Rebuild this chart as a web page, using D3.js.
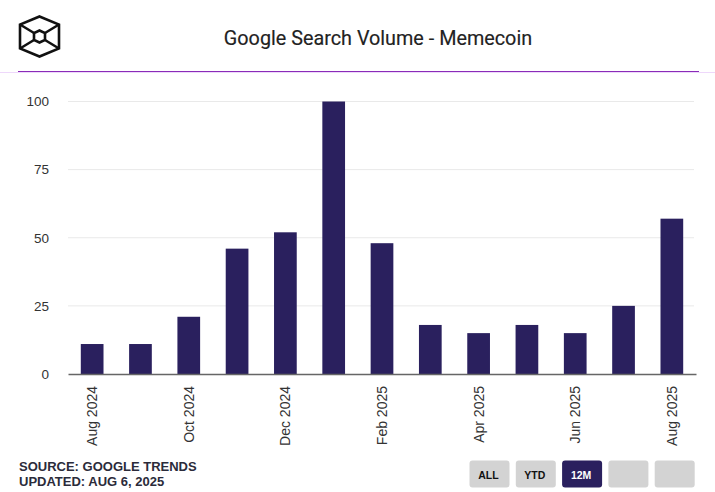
<!DOCTYPE html>
<html>
<head>
<meta charset="utf-8">
<script src="https://cdn.jsdelivr.net/npm/d3@7"></script>
<style>
  html, body { margin: 0; padding: 0; background: #fff; }
  svg { display: block; }
  text { font-family: "Liberation Sans", Arial, sans-serif; }
</style>
</head>
<body>
<svg id="chart" width="715" height="492"></svg>
<script>
// values
var months = ["Aug 2024","Sep 2024","Oct 2024","Nov 2024","Dec 2024","Jan 2025","Feb 2025","Mar 2025","Apr 2025","May 2025","Jun 2025","Jul 2025","Aug 2025"];
var volume = [11,11,21,46,52,100,48,18,15,18,15,25,57];
var monthTicks = ["Aug 2024","Oct 2024","Dec 2024","Feb 2025","Apr 2025","Jun 2025","Aug 2025"];
var volumeTicks = [0,25,50,75,100];
var buttons = ["ALL","YTD","12M","",""];
var activeButton = "12M";
var sourceLines = ["SOURCE: GOOGLE TRENDS","UPDATED: AUG 6, 2025"];

var svg = d3.select("#chart");
var navy = "#2a205e";

// header
svg.append("text").attr("x", 378).attr("y", 44.5)
  .attr("text-anchor", "middle")
  .style("font-family", "Roboto, sans-serif")
  .style("font-size", "19.8px")
  .style("fill", "#222")
  .style("stroke", "#222")
  .style("stroke-width", 0.15)
  .text("Google Search Volume - Memecoin");

svg.append("line").attr("x1", 0).attr("x2", 715).attr("y1", 72.5).attr("y2", 72.5)
  .attr("stroke", "#eed8fb").attr("stroke-width", 1);
svg.append("line").attr("x1", 18).attr("x2", 699).attr("y1", 71.5).attr("y2", 71.5)
  .attr("stroke", "#8a2bb8").attr("stroke-width", 1);

// logo
var logo = svg.append("g").attr("transform", "translate(39.5,36.5)")
  .attr("fill", "none").attr("stroke", "#111").attr("stroke-width", 2.6);
logo.append("path").attr("d", "M0,-20L19.5,-12V12L0,20L-19.5,12V-12Z");
logo.append("path").attr("d", "M0,-6L5.5,-3.5V3.5L0,6L-5.5,3.5V-3.5Z");
logo.append("path").attr("d", "M-19.5,-12L-5.5,-3.5M19.5,-12L5.5,-3.5M-19.5,12L-5.5,3.5M19.5,12L5.5,3.5");

// scales
var x = d3.scaleBand().domain(months).range([68, 696]).paddingInner(0.53).paddingOuter(0.265);
var y = d3.scaleLinear().domain([0, 100]).range([374, 101.5]);

// grid
svg.append("g").selectAll("line").data(volumeTicks.filter(function(d) { return d > 0; }))
  .enter().append("line")
  .attr("x1", 68).attr("x2", 694)
  .attr("y1", function(d) { return y(d); })
  .attr("y2", function(d) { return y(d); })
  .attr("stroke", "#e9e9e9").attr("stroke-width", 1);

// bars
svg.append("g").selectAll("rect").data(months)
  .enter().append("rect")
  .attr("x", function(d) { return x(d); })
  .attr("width", x.bandwidth())
  .attr("y", function(d, i) { return y(volume[i]); })
  .attr("height", function(d, i) { return y(0) - y(volume[i]); })
  .attr("fill", navy);

// y axis
var yAxis = svg.append("g").attr("transform", "translate(68,0)")
  .call(d3.axisLeft(y).tickValues(volumeTicks).tickSize(0).tickPadding(19));
yAxis.select(".domain").remove();
yAxis.selectAll("text").style("font-size", "13.5px").style("fill", "#333");

// x axis
var xAxis = svg.append("g").attr("transform", "translate(0,374)")
  .call(d3.axisBottom(x).tickValues(monthTicks).tickSize(0));
xAxis.select(".domain").attr("stroke", "#666").attr("stroke-width", 1.6);
xAxis.selectAll("text")
  .attr("transform", "rotate(-90)")
  .attr("text-anchor", "end")
  .attr("x", -12).attr("y", 0).attr("dy", "0.35em")
  .style("font-size", "14px")
  .style("fill", "#333");

// footer
svg.append("g").selectAll("text").data(sourceLines)
  .enter().append("text")
  .attr("x", 19)
  .attr("y", function(d, i) { return 471 + i * 15; })
  .style("font-size", "13px")
  .style("font-weight", "700")
  .style("fill", "#2b2b3a")
  .text(function(d) { return d; });

// range buttons
var btn = svg.append("g").selectAll("g").data(buttons)
  .enter().append("g")
  .attr("transform", function(d, i) { return "translate(" + (469.5 + i * 46.3) + ",460.5)"; });
btn.append("rect")
  .attr("width", 40).attr("height", 27).attr("rx", 3)
  .attr("fill", function(d) { return d === activeButton ? navy : "#d3d3d3"; });
btn.append("text")
  .attr("x", 19).attr("y", 18)
  .attr("text-anchor", "middle")
  .style("font-size", "10.5px")
  .style("font-weight", "700")
  .style("fill", function(d) { return d === activeButton ? "#fff" : "#111"; })
  .text(function(d) { return d; });
</script>
</body>
</html>
